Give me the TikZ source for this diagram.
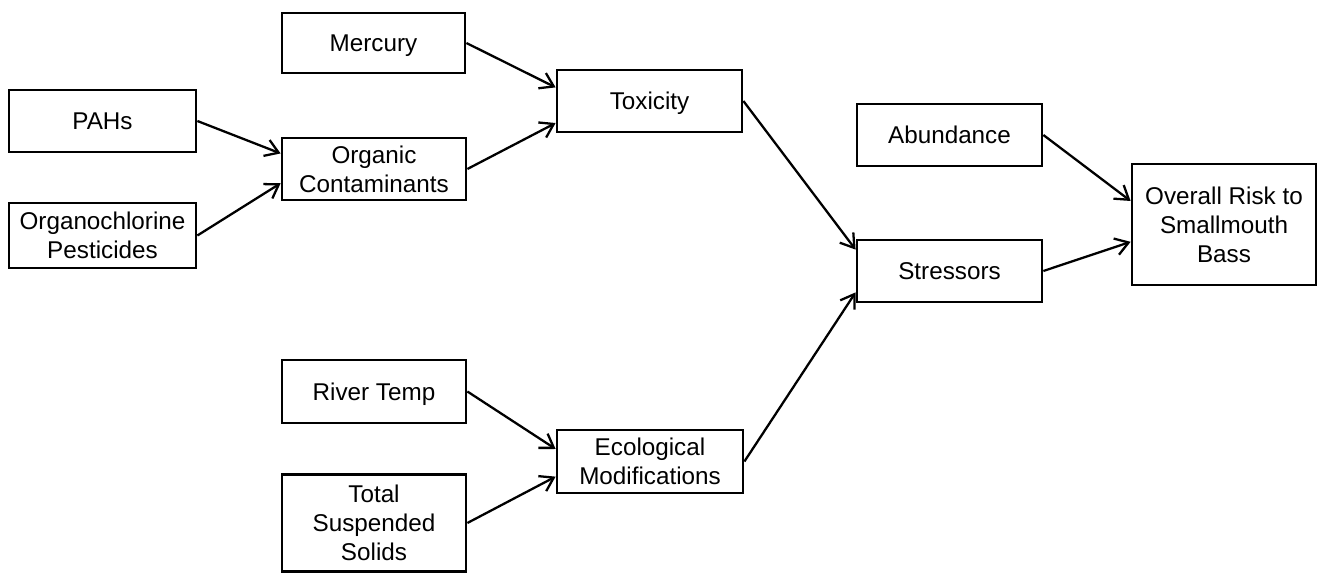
\documentclass[tikz,border=0pt]{standalone}
\usepackage{fontspec}
\setmainfont{Liberation Sans}
\usetikzlibrary{calc,arrows.meta}
\begin{document}
\begin{tikzpicture}[x=0.02cm,y=-0.02cm,
  factor/.style={draw, line width=1.6pt, align=center, inner sep=0pt, text depth=0pt,
    font=\fontsize{13.8}{16.5}\selectfont},
  link/.style={line width=1.3pt, -{Straight Barb[length=2.6mm,width=3.4mm,line width=1.3pt]}}]
\useasboundingbox (0,0) rectangle (1323,574);

% contaminant sources
\node[factor, minimum width=3.66cm, minimum height=1.2cm] (merc) at (373.5,43) {Mercury};
\node[factor, minimum width=3.74cm, minimum height=1.24cm] (pahs) at (102.5,121) {PAHs};
\node[factor, minimum width=3.74cm, minimum height=1.3cm] (ocp) at (102.5,235.5) {Organochlorine\\Pesticides};
\node[factor, minimum width=3.68cm, minimum height=1.24cm] (org) at (374,169) {Organic\\Contaminants};
\node[factor, minimum width=3.7cm, minimum height=1.24cm] (tox) at (649.5,101) {Toxicity};

% habitat factors
\node[factor, minimum width=3.68cm, minimum height=1.26cm] (river) at (374,391.5) {River Temp};
\node[factor, minimum width=3.68cm, minimum height=1.94cm] (tss) at (374,523) {Total\\Suspended\\Solids};
\node[factor, minimum width=3.72cm, minimum height=1.26cm] (eco) at (650,461.5) {Ecological\\Modifications};

% aggregation
\node[factor, minimum width=3.7cm, minimum height=1.24cm] (abun) at (949.5,135) {Abundance};
\node[factor, minimum width=3.7cm, minimum height=1.24cm] (stress) at (949.5,271) {Stressors};
\node[factor, minimum width=3.68cm, minimum height=2.42cm] (risk) at (1224,224.5) {Overall Risk to\\Smallmouth\\Bass};

% influences
\draw[link] (merc.east) -- ($(tox.north west)!0.29!(tox.south west)$);
\draw[link] (org.east) -- ($(tox.north west)!0.84!(tox.south west)$);
\draw[link] (pahs.east) -- ($(org.north west)!0.26!(org.south west)$);
\draw[link] (ocp.east) -- ($(org.north west)!0.72!(org.south west)$);
\draw[link] (tox.east) -- ($(stress.north west)!0.17!(stress.south west)$);
\draw[link] (eco.east) -- ($(stress.north west)!0.83!(stress.south west)$);
\draw[link] (river.east) -- ($(eco.north west)!0.31!(eco.south west)$);
\draw[link] (tss.east) -- ($(eco.north west)!0.73!(eco.south west)$);
\draw[link] (abun.east) -- ($(risk.north west)!0.31!(risk.south west)$);
\draw[link] (stress.east) -- ($(risk.north west)!0.64!(risk.south west)$);
\end{tikzpicture}
\end{document}
